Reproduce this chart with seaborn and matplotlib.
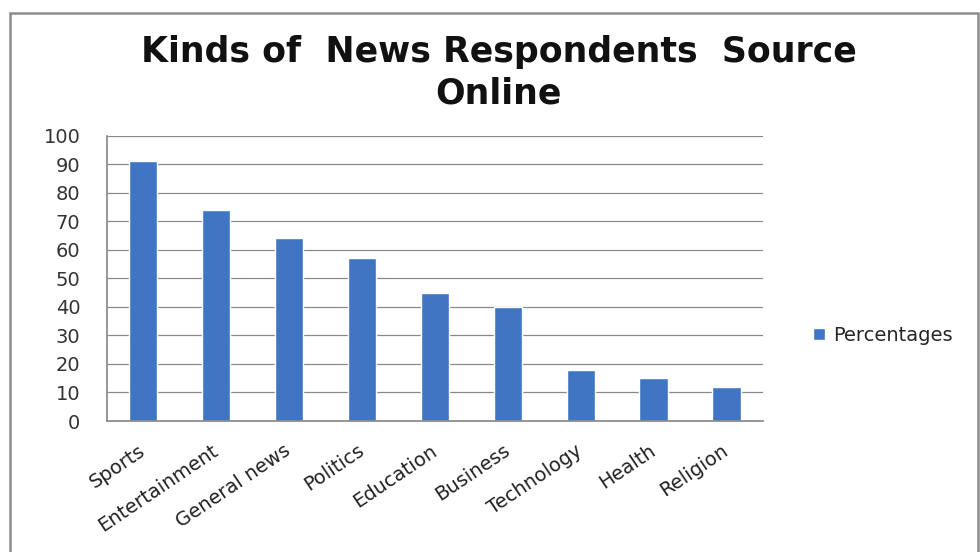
import matplotlib
matplotlib.use("Agg")
import matplotlib.pyplot as plt
from matplotlib.patches import Rectangle
import seaborn as sns
import pandas as pd

categories = ["Sports", "Entertainment", "General news", "Politics", "Education",
              "Business", "Technology", "Health", "Religion"]
percentages = [91, 74, 64, 57, 45, 40, 18, 15, 12]
yticks = [0, 10, 20, 30, 40, 50, 60, 70, 80, 90, 100]
series_name = "Percentages"
title = "Kinds of  News Respondents  Source\nOnline"

df = pd.DataFrame({"Category": categories, series_name: percentages})

sns.set_theme(style="white")
plt.rcParams["font.family"] = ["DejaVu Sans"]

fig = plt.figure(figsize=(9.8, 5.52), dpi=100)
fig.patches.append(Rectangle((0.0105, -0.05), 0.987, 1.026, transform=fig.transFigure,
                             fill=False, edgecolor="#8c8c8c", linewidth=1.8))
ax = fig.add_axes([0.109, 0.2373, 0.6696, 0.5169])

bar_color = "#3F75C3"
sns.barplot(data=df, x="Category", y=series_name, color=bar_color, width=0.39,
            ax=ax, label=series_name, saturation=1)

ax.set_ylim(0, 100)
ax.set_xlim(-0.5, len(categories) - 0.5)
ax.set_yticks(yticks)
ax.yaxis.grid(True, color="#8a8a8a", linewidth=0.9)
ax.set_axisbelow(True)
for s in ["top", "right"]:
    ax.spines[s].set_visible(False)
ax.spines["left"].set_color("#8a8a8a")
ax.spines["bottom"].set_color("#8a8a8a")
ax.set_xlabel("")
ax.set_ylabel("")
ax.tick_params(axis="y", labelsize=14, labelcolor="#333333", length=0, pad=19)
ax.tick_params(axis="x", labelsize=14, labelcolor="#222222", length=0, pad=20)
for lab in ax.get_xticklabels():
    lab.set_rotation(34)
    lab.set_ha("right")
    lab.set_va("center")
    lab.set_rotation_mode("anchor")

fig.text(0.509, 0.868, title, ha="center", va="center", fontsize=25, fontweight="bold",
         color="#111111", linespacing=1.3)

ax.legend(loc="center left", bbox_to_anchor=(0.812, 0.392), bbox_transform=fig.transFigure,
          frameon=False, fontsize=14, handlelength=0.6, handleheight=0.6, handletextpad=0.4)

fig.savefig("out.png", dpi=100)
